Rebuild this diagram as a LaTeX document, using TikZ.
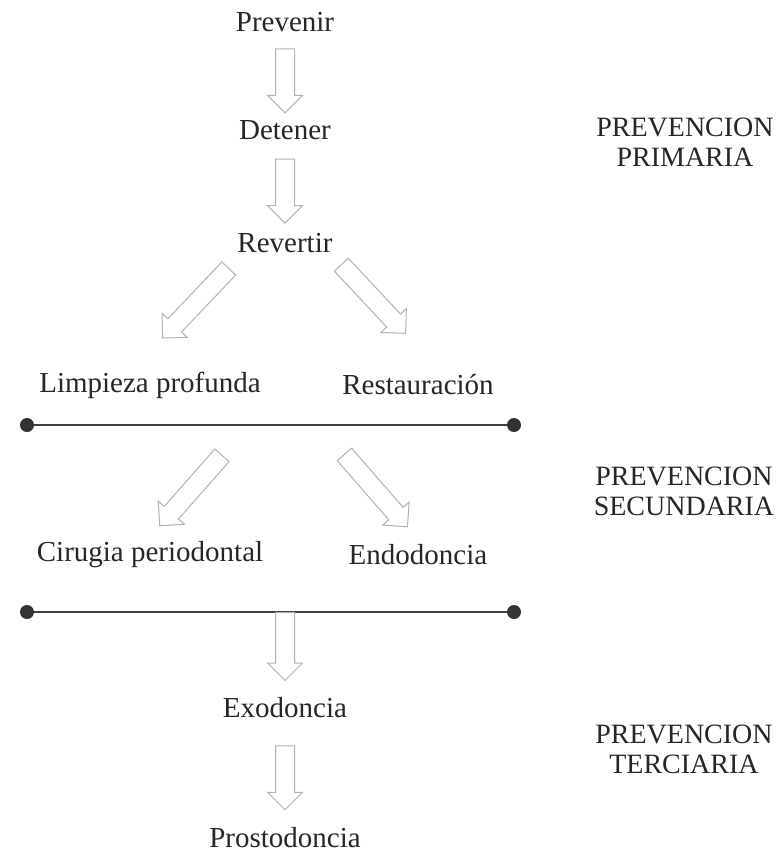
\documentclass[tikz,border=0pt]{standalone}
\usepackage{fontspec}
\setmainfont{Liberation Serif}
\usetikzlibrary{shapes.arrows,calc}

\tikzstyle{stage}=[text=black!85,
    font=\fontsize{14.5}{16}\selectfont,
    inner sep=2pt]
\tikzstyle{level}=[stage,
    font=\fontsize{14}{15}\selectfont,
    align=center]
\tikzstyle{fatarrow}=[single arrow,
    draw=gray!60,
    fill=white,
    line width=0.5pt,
    inner sep=4.5pt,
    minimum width=17pt,
    single arrow head extend=4pt,
    minimum height=32pt,
    allow upside down]
\tikzstyle{divider}=[draw=black!75, line width=0.8pt]
\tikzstyle{endpoint}=[circle, fill=black!80, inner sep=0pt, minimum size=7pt]

\begin{document}
\begin{tikzpicture}[x=0.5pt, y=-0.5pt]
            \useasboundingbox (0,0) rectangle (779,857);
            \node (prevenir) [stage] at (285,22) {Prevenir};
            \node (detener) [stage] at (285,130) {Detener};
            \node (revertir) [stage] at (285,243) {Revertir};
            \node (limpieza) [stage] at (150,385) {Limpieza profunda};
            \node (restaur) [stage] at (418,385) {Restauración};
            \node (cirugia) [stage] at (150,555) {Cirugia periodontal};
            \node (endo) [stage] at (418,555) {Endodoncia};
            \node (exo) [stage] at (285,708) {Exodoncia};
            \node (prosto) [stage] at (285,838) {Prostodoncia};

            \node (primaria) [level] at (685,142) {PREVENCION\\PRIMARIA};
            \node (secundaria) [level] at (684,491) {PREVENCION\\SECUNDARIA};
            \node (terciaria) [level] at (684,749) {PREVENCION\\TERCIARIA};

            \node (l1a) [endpoint] at (27,425) {};
            \node (l1b) [endpoint] at (514,425) {};
            \node (l2a) [endpoint] at (27,612) {};
            \node (l2b) [endpoint] at (514,612) {};
            \draw [divider] (l1a) -- (l1b);
            \draw [divider] (l2a) -- (l2b);
            \coordinate (split) at ($(limpieza)!0.5!(restaur)$);
            \coordinate (l2mid) at (l2a -| exo);

            \path (prevenir) -- node [fatarrow, sloped] {} (detener);
            \path (detener) -- node [fatarrow, sloped] {} (revertir);
            \path ([xshift=-16pt]revertir.center) -- node [fatarrow, sloped, pos=0.4, minimum height=48pt] {} ([xshift=-16pt]limpieza.center);
            \path ([xshift=18pt]revertir.center) -- node [fatarrow, sloped, pos=0.37, minimum height=47pt] {} ([xshift=18pt]restaur.center);
            \path (split) -- node [fatarrow, sloped, pos=0.6, minimum height=47pt] {} ([xshift=-8pt]cirugia.center);
            \path (split) -- node [fatarrow, sloped, pos=0.6, minimum height=48pt] {} ([xshift=7pt]endo.center);
            \path (l2mid) -- node [fatarrow, sloped, pos=0, anchor=tail, minimum height=34pt] {} (exo);
            \path (exo) -- node [fatarrow, sloped] {} (prosto);
\end{tikzpicture}
\end{document}
